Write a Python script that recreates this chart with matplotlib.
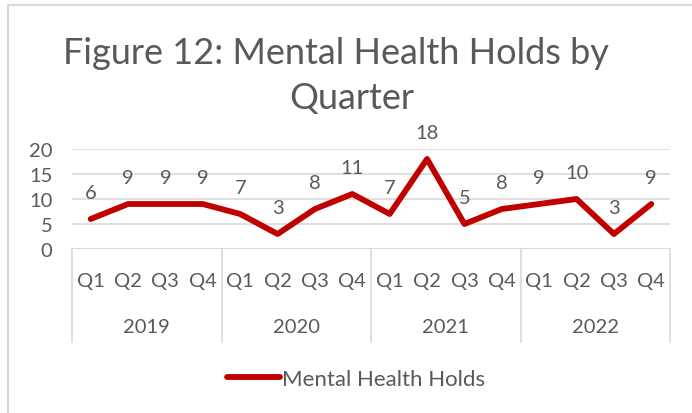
import matplotlib
matplotlib.use("Agg")
from matplotlib import pyplot as plt
from matplotlib.lines import Line2D
import matplotlib.transforms as mtransforms

# Data
years = ["2019", "2020", "2021", "2022"]
quarters = ["Q1", "Q2", "Q3", "Q4"]
holds = [6, 9, 9, 9, 7, 3, 8, 11, 7, 18, 5, 8, 9, 10, 3, 9]

txt_color = "#595959"
grid_color = "#D9D9D9"
line_color = "#C00000"

plt.rcParams["font.family"] = ["Lato", "DejaVu Sans"]

W, H = 692, 414
fig = plt.figure(figsize=(W / 100, H / 100), dpi=100)

# chart border (top and left edges visible)
fig.add_artist(Line2D([8 / W, 1], [1 - 6 / H, 1 - 6 / H], transform=fig.transFigure, color=grid_color, lw=1.5))
fig.add_artist(Line2D([8 / W, 8 / W], [0, 1 - 6 / H], transform=fig.transFigure, color=grid_color, lw=1.5))

# title, wrapped like the original
fig.text(336 / W, 1 - 54 / H, "Figure 12: Mental Health Holds by", ha="center", va="center",
         fontsize=26, color=txt_color)
fig.text(352 / W, 1 - 99 / H, "Quarter", ha="center", va="center", fontsize=26, color=txt_color)

left, right, top, bottom = 72, 670, 150, 250
ax = fig.add_axes([left / W, 1 - bottom / H, (right - left) / W, (bottom - top) / H])

x = list(range(len(holds)))
ax.plot(x, holds, color=line_color, lw=4.2, solid_joinstyle="round", solid_capstyle="round",
        label="Mental Health Holds")
for xi, v in zip(x, holds):
    ax.annotate(str(v), (xi, v), xytext=(0, 13), textcoords="offset points", ha="center",
                va="bottom", fontsize=14.5, color=txt_color)

ax.set_xlim(-0.5, len(holds) - 0.5)
ax.set_ylim(0, 20)
ax.set_yticks([0, 5, 10, 15, 20])
ax.set_yticklabels(["0", "5", "10", "15", "20"], fontsize=14.5, color=txt_color)
ax.tick_params(axis="y", length=0, pad=14)
ax.set_xticks([])
for s in ax.spines.values():
    s.set_visible(False)
ax.grid(axis="y", color=grid_color, lw=1.2)
ax.axhline(0, color=grid_color, lw=1.2)
ax.set_axisbelow(True)

trans = mtransforms.blended_transform_factory(ax.transData, ax.transAxes)
for i in range(len(years) + 1):
    xb = i * 4 - 0.5
    ax.plot([xb, xb], [0, -0.93], transform=trans, color=grid_color, lw=1.2, clip_on=False)
for i, q in enumerate(quarters * len(years)):
    ax.text(i, -0.32, q, transform=trans, ha="center", va="center", fontsize=14.5, color=txt_color)
for j, yr in enumerate(years):
    ax.text(j * 4 + 1.5, -0.78, yr, transform=trans, ha="center", va="center", fontsize=14.5,
            color=txt_color)

fig.legend(handles=[Line2D([0], [0], color=line_color, lw=4.2, solid_capstyle="round")],
           labels=["Mental Health Holds"], loc="center", bbox_to_anchor=(356 / W, 1 - 380 / H),
           frameon=False, fontsize=16, labelcolor=txt_color, handlelength=2.4, handletextpad=0.1)

fig.savefig("out.png", dpi=100)
